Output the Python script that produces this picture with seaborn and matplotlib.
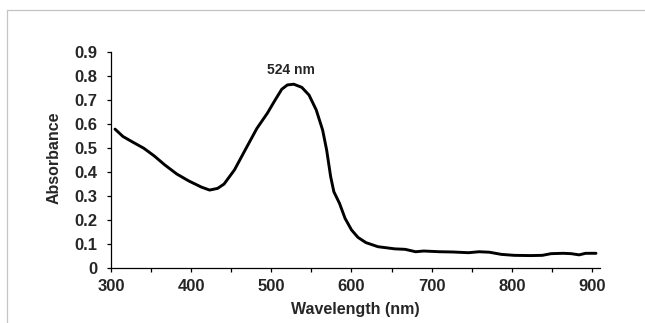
import matplotlib
matplotlib.use("Agg")
import matplotlib.pyplot as plt
from matplotlib.lines import Line2D
from matplotlib.ticker import MultipleLocator
import seaborn as sns

# Absorbance spectrum
wavelength = [305, 315, 326, 341, 354, 367, 382, 397, 413, 423, 433, 441, 454, 469,
              482, 495, 504, 513, 520, 528, 538, 547, 556, 564, 569, 574, 578, 585,
              592, 600, 608, 618, 633, 654, 667, 680, 690, 710, 726, 746, 759, 772,
              787, 803, 823, 838, 849, 864, 874, 884, 892, 905]
absorbance = [0.580, 0.549, 0.528, 0.500, 0.468, 0.431, 0.393, 0.364, 0.338, 0.326,
              0.333, 0.351, 0.410, 0.503, 0.583, 0.646, 0.697, 0.746, 0.764, 0.767,
              0.754, 0.722, 0.660, 0.576, 0.493, 0.382, 0.319, 0.271, 0.208, 0.160,
              0.129, 0.107, 0.090, 0.081, 0.079, 0.069, 0.072, 0.069, 0.068, 0.065,
              0.069, 0.067, 0.058, 0.054, 0.053, 0.054, 0.061, 0.0625, 0.061, 0.056,
              0.0625, 0.0625]
peak_label = "524 nm"
peak_pos = (525, 0.828)

sns.set_style("white")
plt.rcParams["font.family"] = ["Liberation Sans", "DejaVu Sans"]
plt.rcParams["font.weight"] = "bold"

fig = plt.figure(figsize=(6.45, 3.23), dpi=100)
ax = fig.add_axes([111 / 645, 1 - 268.3 / 323, 489 / 645, 216 / 323])

sns.lineplot(x=wavelength, y=absorbance, color="black", linewidth=2.1, ax=ax)

ax.set_xlim(300, 910)
ax.set_ylim(0, 0.9)
ax.xaxis.set_major_locator(MultipleLocator(100))
ax.xaxis.set_minor_locator(MultipleLocator(50))
ax.set_yticks([i / 10 for i in range(10)])
ax.set_yticklabels(["0"] + [f"{i / 10:.1f}" for i in range(1, 10)])

sns.despine(ax=ax)
for s in ["left", "bottom"]:
    ax.spines[s].set_color("black")
    ax.spines[s].set_linewidth(0.9)

ax.tick_params(axis="x", which="both", direction="out", length=3, width=0.9,
               color="black", bottom=True, labelsize=12, pad=5)
ax.tick_params(axis="x", which="minor", labelbottom=False)
ax.tick_params(axis="y", direction="out", length=3, width=0.9, color="black",
               left=True, labelsize=12, pad=7)
for lab in ax.get_xticklabels() + ax.get_yticklabels():
    lab.set_fontweight("bold")

ax.set_xlabel("Wavelength (nm)", fontsize=11.5, fontweight="bold", va="center")
ax.set_ylabel("Absorbance", fontsize=11.5, fontweight="bold", va="center")
ax.xaxis.set_label_coords(0.5, -0.193)
ax.yaxis.set_label_coords(-0.1166, 0.51)

ax.text(peak_pos[0], peak_pos[1], peak_label, ha="center", va="center",
        fontsize=10, fontweight="bold")

# light gray frame around the chart area
fig.add_artist(Line2D([6.5 / 645, 1], [1 - 9.5 / 323, 1 - 9.5 / 323],
                      transform=fig.transFigure, color="#c4c4c4", linewidth=0.9))
fig.add_artist(Line2D([6.5 / 645, 6.5 / 645], [0, 1 - 9.5 / 323],
                      transform=fig.transFigure, color="#c4c4c4", linewidth=0.9))

fig.savefig("out.png", dpi=100)
